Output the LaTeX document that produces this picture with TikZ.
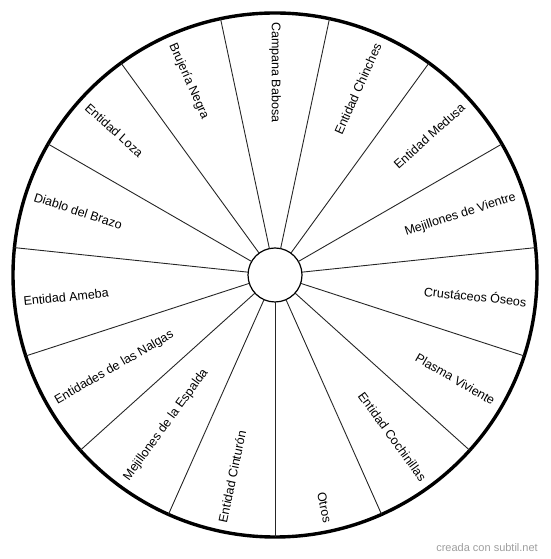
\documentclass[tikz,border=0pt]{standalone}
\usepackage{fontspec}
\setmainfont{Liberation Sans}
\usetikzlibrary{calc}
\begin{document}
\begin{tikzpicture}[x=1pt,y=1pt,
  rimstyle/.style={circle, draw, line width=3.4pt, minimum size=524pt, inner sep=0pt, outer sep=0pt},
  hubstyle/.style={circle, draw, line width=1.2pt, minimum size=54pt, inner sep=0pt, outer sep=0pt},
  spoke/.style={draw=black!85, line width=0.9pt},
  lbl/.style={inner sep=0pt, font=\fontsize{12.5}{15}\selectfont},
  credit/.style={inner sep=0pt, text=black!38, font=\fontsize{11}{13}\selectfont}]
\useasboundingbox (0,0) rectangle (550,559);
\coordinate (c) at (275,284);
\node[rimstyle] (rim) at (c) {};
\node[hubstyle] (hub) at (c) {};
\foreach \i in {0,...,14} {
  \pgfmathtruncatemacro\a{mod(78-24*\i+720,360)}
  \draw[spoke] (hub.\a) -- (rim.\a);
}
\foreach \t/\r/\an/\txt [count=\k] in {
  90/270/west/Campana Babosa,
  66/66/east/Entidad Chinches,
  42/42/east/Entidad Medusa,
  18/18/east/Mejillones de Vientre,
  -6/-6/east/Crustáceos Óseos,
  -30/-30/east/Plasma Viviente,
  -54/-54/east/Entidad Cochinillas,
  -78/-78/east/Otros,
  -102/78/west/Entidad Cinturón,
  -126/54/west/Mejillones de la Espalda,
  -150/30/west/Entidades de las Nalgas,
  -174/6/west/Entidad Ameba,
  162/-18/west/Diablo del Brazo,
  138/-42/west/Entidad Loza,
  114/-66/west/Brujería Negra} {
  \node[lbl, rotate=\r, anchor=\an] (l\k) at ($(c)+(\t:253)$) {\txt};
}
\node[credit, anchor=east] (cr) at (538,11) {creada con subtil.net};
\end{tikzpicture}
\end{document}
